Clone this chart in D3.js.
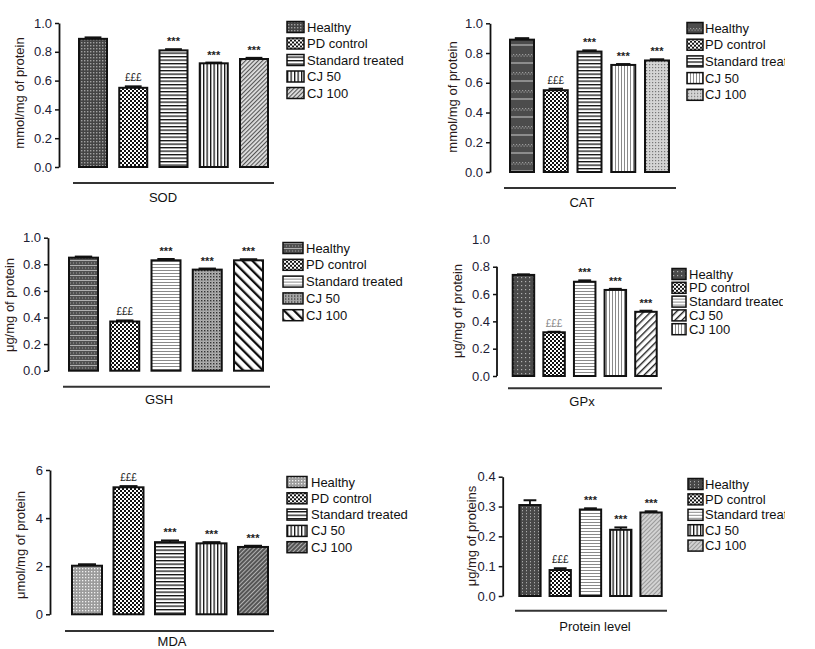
<!DOCTYPE html>
<html>
<head>
<meta charset="utf-8">
<script src="https://cdn.jsdelivr.net/npm/d3@7"></script>
<style>
  body { margin: 0; background: #fff; }
  text { font-family: 'Liberation Sans', Arial, sans-serif; }
</style>
</head>
<body>
<div id="chart"></div>
<script>
// groups shown in every panel
const groups = ['Healthy', 'PD control', 'Standard treated', 'CJ 50', 'CJ 100']
const marks = ['', '£££', '***', '***', '***']

// values (mean, error)
const sodVals = [0.89, 0.55, 0.81, 0.72, 0.75]
const sodErr = [0.01, 0.01, 0.008, 0.005, 0.008]
const catVals = [0.89, 0.55, 0.81, 0.72, 0.75]
const catErr = [0.01, 0.01, 0.008, 0.006, 0.008]
const gshVals = [0.85, 0.37, 0.83, 0.76, 0.83]
const gshErr = [0.008, 0.008, 0.01, 0.008, 0.008]
const gpxVals = [0.74, 0.32, 0.69, 0.63, 0.47]
const gpxErr = [0.004, 0.004, 0.01, 0.008, 0.008]
const mdaVals = [2.02, 5.28, 3.0, 2.95, 2.8]
const mdaErr = [0.06, 0.05, 0.07, 0.05, 0.05]
const protVals = [0.305, 0.087, 0.29, 0.222, 0.28]
const protErr = [0.016, 0.006, 0.004, 0.008, 0.004]

// tick labels
const ticksUnit = [0, 0.2, 0.4, 0.6, 0.8, 1.0]
const ticksMda = [0, 2, 4, 6]
const ticksProt = [0, 0.1, 0.2, 0.3, 0.4]

const svg = d3.select('#chart').append('svg')
  .attr('width', 815)
  .attr('height', 649)

const defs = svg.append('defs')

// small helper for fill patterns
function pattern(id, w, h, bg, draw, transform) {
  const p = defs.append('pattern')
    .attr('id', id)
    .attr('patternUnits', 'userSpaceOnUse')
    .attr('width', w)
    .attr('height', h)
  if (transform) p.attr('patternTransform', transform)
  p.append('rect').attr('width', w).attr('height', h).attr('fill', bg)
  draw(p)
}
const r = (p, x, y, w, h, c) => p.append('rect').attr('x', x).attr('y', y).attr('width', w).attr('height', h).attr('fill', c)

pattern('darkGrid', 3, 3, '#444', p => r(p, 0, 0, 1.4, 1.4, '#a0a0a0'))
pattern('darkGrid2', 4, 4, '#4a4a4a', p => r(p, 1, 1, 1.2, 1.2, '#b0b0b0'))
pattern('darkBand', 3, 18, '#4c4c4c', p => { r(p, 0, 0, 1.2, 1.2, '#9a9a9a'); r(p, 1.5, 1.5, 1.2, 1.2, '#9a9a9a'); r(p, 0, 8, 3, 2, '#8c8c8c') })
pattern('darkRows', 3, 5, '#505050', p => { r(p, 0, 0, 3, 1, '#b0b0b0'); r(p, 1, 2.5, 1, 1, '#a0a0a0') })
pattern('checker', 4, 4, '#111', p => { r(p, 0, 0, 2, 2, '#fff'); r(p, 2, 2, 2, 2, '#fff') })
pattern('hlines', 4, 3.5, '#fff', p => r(p, 0, 0, 4, 1.3, '#111'))
pattern('hlinesLight', 4, 3, '#fff', p => r(p, 0, 0, 4, 1, '#8a8a8a'))
pattern('vlines', 3.5, 4, '#fff', p => r(p, 0, 0, 1.3, 4, '#111'))
pattern('vlinesLight', 3, 4, '#fff', p => r(p, 0, 0, 1, 4, '#8a8a8a'))
pattern('diagFine', 3, 3, '#e0e0e0', p => r(p, 0, 0, 1.1, 3, '#555'), 'rotate(45)')
pattern('stippleLight', 3, 3, '#d4d4d4', p => r(p, 1, 1, 1.2, 1.2, '#777'))
pattern('stippleDark', 3, 3, '#b0b0b0', p => { r(p, 0, 0, 1.4, 1.4, '#333'); r(p, 1.5, 1.5, 0.8, 0.8, '#666') })
pattern('boldBack', 7, 7, '#fff', p => r(p, 0, 0, 2.3, 7, '#111'), 'rotate(-45)')
pattern('diagMed', 5, 5, '#fff', p => r(p, 0, 0, 1.4, 5, '#222'), 'rotate(45)')
pattern('darkDiag', 3, 3, '#555', p => r(p, 0, 0, 1, 3, '#b0b0b0'), 'rotate(45)')
pattern('lightStip', 3, 3, '#9c9c9c', p => r(p, 1, 1, 1.3, 1.3, '#f0f0f0'))
pattern('protHealthy', 4, 3, '#484848', p => r(p, 2, 0, 1, 1.3, '#a8a8a8'))
pattern('diagLight', 3, 3, '#d2d2d2', p => r(p, 0, 0, 1, 3, '#999'), 'rotate(45)')

const fmt1 = d3.format('.1f')
const fmt0 = d3.format('d')

const panels = [
  {
    id: 'sod', title: 'SOD', ylabel: 'mmol/mg of protein', vals: sodVals, errs: sodErr,
    domain: [0, 1], ticks: ticksUnit, fmt: fmt1,
    pats: ['darkGrid', 'checker', 'hlines', 'vlines', 'diagFine'],
    L: { ax: 59, yTop: 23, yBot: 167, bx0: 79, bx1: 268, bw: 28, ly: 183, lx0: 73, lx1: 274,
      tx: 163, ty: 197, gx: 287, gw: 17, gy0: 27, gstep: 16.5, gtx: 307, ylx: 19, yly: 93 }
  },
  {
    id: 'cat', title: 'CAT', ylabel: 'mmol/mg of protein', vals: catVals, errs: catErr,
    domain: [0, 1], ticks: ticksUnit, fmt: fmt1,
    pats: ['darkBand', 'checker', 'hlines', 'vlinesLight', 'stippleLight'],
    L: { ax: 490, yTop: 23.3, yBot: 172, bx0: 510, bx1: 669, bw: 24, ly: 188, lx0: 504, lx1: 676,
      tx: 582, ty: 202, gx: 687, gw: 16, gy0: 28, gstep: 16.7, gtx: 705, clip: 785, ylx: 452, yly: 97 }
  },
  {
    id: 'gsh', title: 'GSH', ylabel: 'μg/mg of protein', vals: gshVals, errs: gshErr,
    domain: [0, 1], ticks: ticksUnit, fmt: fmt1,
    pats: ['darkRows', 'checker', 'hlinesLight', 'stippleDark', 'boldBack'],
    L: { ax: 48, yTop: 237.7, yBot: 370.7, bx0: 69, bx1: 263, bw: 29, ly: 386.7, lx0: 63, lx1: 270,
      tx: 159, ty: 399, gx: 283, gw: 20, gy0: 248, gstep: 16.8, gtx: 306, ylx: 9, yly: 305 }
  },
  {
    id: 'gpx', title: 'GPx', ylabel: 'μg/mg of protein', vals: gpxVals, errs: gpxErr,
    domain: [0, 1], ticks: ticksUnit, fmt: fmt1, lineTop: 0.8,
    pats: ['darkGrid2', 'checker', 'hlinesLight', 'vlinesLight', 'diagMed'],
    legendPats: ['darkGrid2', 'checker', 'hlinesLight', 'diagMed', 'vlinesLight'],
    L: { ax: 497, yTop: 239.4, yBot: 376, bx0: 512.7, bx1: 656.7, bw: 21.5, ly: 388.3, lx0: 508, lx1: 662,
      tx: 582, ty: 401.7, gx: 672, gw: 14, gy0: 274, gstep: 13.8, gtx: 689, clip: 783, ylx: 457, yly: 311 }
  },
  {
    id: 'mda', title: 'MDA', ylabel: 'μmol/mg of protein', vals: mdaVals, errs: mdaErr,
    domain: [0, 6], ticks: ticksMda, fmt: fmt0,
    pats: ['lightStip', 'checker', 'hlines', 'vlines', 'darkDiag'],
    L: { ax: 50, yTop: 470, yBot: 614.3, bx0: 72, bx1: 268, bw: 30, ly: 631, lx0: 65, lx1: 274,
      tx: 172, ty: 641, gx: 287, gw: 20, gy0: 482, gstep: 16.3, gtx: 311, ylx: 20, yly: 545 }
  },
  {
    id: 'prot', title: 'Protein level', ylabel: 'μg/mg of proteins', vals: protVals, errs: protErr,
    domain: [0, 0.4], ticks: ticksProt, fmt: fmt1,
    pats: ['protHealthy', 'checker', 'hlinesLight', 'vlines', 'diagLight'],
    L: { ax: 502.7, yTop: 476.7, yBot: 596, bx0: 519.3, bx1: 661.7, bw: 21.3, ly: 610.7, lx0: 515, lx1: 667,
      tx: 595, ty: 626.7, gx: 688, gw: 15, gy0: 484, gstep: 15.4, gtx: 705, clip: 785, ylx: 471, yly: 536 }
  }
]

function drawPanel(p) {
  const L = p.L
  const g = svg.append('g').attr('class', 'panel-' + p.id)

  const y = d3.scaleLinear().domain(p.domain).range([L.yBot, L.yTop])
  const step = (L.bx1 - L.bx0 - L.bw) / (groups.length - 1)
  const x = d3.scaleBand()
    .domain(groups)
    .range([L.bx0, L.bx1])
    .paddingInner(1 - L.bw / step)
    .paddingOuter(0)

  // y axis
  const ag = g.append('g')
    .attr('transform', 'translate(' + L.ax + ',0)')
    .call(d3.axisLeft(y).tickValues(p.ticks).tickFormat(p.fmt).tickSize(4).tickSizeOuter(0))
  ag.selectAll('text').attr('font-size', 13).attr('fill', '#1c2035')
    .attr('font-family', "'Liberation Sans', Arial, sans-serif")
  ag.selectAll('line').attr('stroke', '#111').attr('stroke-width', 1.5)
  ag.select('.domain').attr('stroke', '#111').attr('stroke-width', 1.8)
  if (p.lineTop) {
    ag.select('.domain').attr('d', 'M0,' + y(0) + 'V' + y(p.lineTop))
    ag.selectAll('.tick').filter(d => d > p.lineTop).select('line').remove()
  }

  // y axis title
  g.append('text')
    .attr('transform', 'translate(' + L.ylx + ',' + L.yly + ') rotate(-90)')
    .attr('text-anchor', 'middle')
    .attr('dy', '0.35em')
    .attr('font-size', 13)
    .attr('fill', '#2a1a1a')
    .text(p.ylabel)

  // bars
  g.selectAll('.bar')
    .data(groups)
    .enter()
    .append('rect')
    .attr('class', 'bar')
    .attr('x', d => x(d))
    .attr('y', (d, i) => y(p.vals[i]))
    .attr('width', x.bandwidth())
    .attr('height', (d, i) => y(0) - y(p.vals[i]))
    .attr('fill', (d, i) => 'url(#' + p.pats[i] + ')')
    .attr('stroke', '#111')
    .attr('stroke-width', 2)

  // error bars
  const eb = g.selectAll('.err')
    .data(groups)
    .enter()
    .append('g')
    .attr('class', 'err')
  eb.append('line')
    .attr('x1', d => x(d) + x.bandwidth() / 2)
    .attr('x2', d => x(d) + x.bandwidth() / 2)
    .attr('y1', (d, i) => y(p.vals[i]))
    .attr('y2', (d, i) => y(p.vals[i] + p.errs[i]))
    .attr('stroke', '#111').attr('stroke-width', 1.8)
  eb.append('line')
    .attr('x1', d => x(d) + x.bandwidth() * 0.2)
    .attr('x2', d => x(d) + x.bandwidth() * 0.8)
    .attr('y1', (d, i) => y(p.vals[i] + p.errs[i]))
    .attr('y2', (d, i) => y(p.vals[i] + p.errs[i]))
    .attr('stroke', '#111').attr('stroke-width', 2)

  // significance marks
  g.selectAll('.mark')
    .data(groups)
    .enter()
    .append('text')
    .attr('class', 'mark')
    .attr('x', d => x(d) + x.bandwidth() / 2)
    .attr('y', (d, i) => y(p.vals[i] + p.errs[i]) - (i === 1 ? 5 : 4))
    .attr('text-anchor', 'middle')
    .attr('font-size', (d, i) => (i === 1 ? 10 : 11))
    .attr('font-weight', (d, i) => (i === 1 ? 'normal' : 'bold'))
    .attr('fill', (d, i) => (p.id === 'gpx' && i === 1 ? '#888' : '#222'))
    .text((d, i) => marks[i])

  // line under the group + title
  g.append('line')
    .attr('x1', L.lx0).attr('x2', L.lx1)
    .attr('y1', L.ly).attr('y2', L.ly)
    .attr('stroke', '#333').attr('stroke-width', 2)
  g.append('text')
    .attr('x', L.tx).attr('y', L.ty)
    .attr('dy', '0.35em')
    .attr('text-anchor', 'middle')
    .attr('font-size', 13)
    .attr('fill', '#111')
    .text(p.title)

  // legend
  const lg = g.append('g')
  if (L.clip) {
    defs.append('clipPath').attr('id', 'clip-' + p.id)
      .append('rect').attr('x', L.gx - 5).attr('y', 0).attr('width', L.clip - L.gx + 5).attr('height', 649)
    lg.attr('clip-path', 'url(#clip-' + p.id + ')')
  }
  const lpats = p.legendPats || p.pats
  const items = lg.selectAll('.item')
    .data(groups)
    .enter()
    .append('g')
    .attr('transform', (d, i) => 'translate(0,' + (L.gy0 + i * L.gstep) + ')')
  items.append('rect')
    .attr('x', L.gx).attr('y', -5.5)
    .attr('width', L.gw).attr('height', 11)
    .attr('fill', (d, i) => 'url(#' + lpats[i] + ')')
    .attr('stroke', '#111').attr('stroke-width', 1.5)
  items.append('text')
    .attr('x', L.gtx).attr('y', 0)
    .attr('dy', '0.35em')
    .attr('font-size', 13)
    .attr('fill', '#111')
    .text(d => d)
}

panels.forEach(drawPanel)
</script>
</body>
</html>
